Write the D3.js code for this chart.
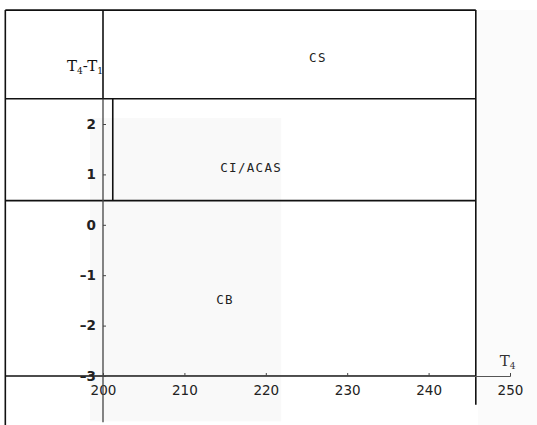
<!DOCTYPE html>
<html>
<head>
<meta charset="utf-8">
<script src="https://cdn.jsdelivr.net/npm/d3@7"></script>
<style>
  body { margin: 0; background: #fff; }
  svg { display: block; }
  .tick text { font-family: "DejaVu Sans", sans-serif; }
</style>
</head>
<body>
<svg width="537" height="425"></svg>
<script>
// axis ticks
const xTicks = [200, 210, 220, 230, 240, 250];
const yTicks = [-3, -2, -1, 0, 1, 2];

// region boundaries (in T4 / T4-T1 units)
const frameLeft = 188;
const frameTop = 4.26;
const frameBottom = -4;
const limitT4 = 245.8;      // right-hand vertical boundary
const upperLimit = 2.5;     // CS / CI-ACAS boundary
const lowerLimit = 0.48;    // CI-ACAS / CB boundary
const ciStart = 201.2;      // short vertical inside CI/ACAS

const boundaries = [
  { x1: frameLeft, y1: frameTop, x2: limitT4, y2: frameTop },
  { x1: frameLeft, y1: frameTop, x2: frameLeft, y2: frameBottom },
  { x1: 200, y1: frameTop, x2: 200, y2: upperLimit },
  { x1: frameLeft, y1: upperLimit, x2: limitT4, y2: upperLimit },
  { x1: frameLeft, y1: lowerLimit, x2: limitT4, y2: lowerLimit },
  { x1: ciStart, y1: upperLimit, x2: ciStart, y2: lowerLimit },
  { x1: limitT4, y1: frameTop, x2: limitT4, y2: -3.57 },
  { x1: frameLeft, y1: -3, x2: limitT4, y2: -3 }
];

const regionLabels = [
  { name: "CS", x: 226.4, y: 3.3 },
  { name: "CI/ACAS", x: 218.2, y: 1.12 },
  { name: "CB", x: 215, y: -1.5 }
];

let svg = d3.select("svg");

let x = d3.scaleLinear().domain([200, 250]).range([103, 510]);
let y = d3.scaleLinear().domain([-3, 2]).range([376, 124]);

// faint scan background patches
svg.append("rect")
  .attr("x", x(198.4)).attr("y", y(2.12))
  .attr("width", x(221.9) - x(198.4)).attr("height", y(-3.9) - y(2.12))
  .attr("fill", "#f9f9f9");
svg.append("rect")
  .attr("x", x(limitT4) + 2).attr("y", y(frameTop))
  .attr("width", 537 - x(limitT4)).attr("height", 425)
  .attr("fill", "#fbfbfb");

// boundary lines
svg.selectAll("line.bound")
  .data(boundaries)
  .enter()
  .append("line")
  .attr("class", "bound")
  .attr("x1", d => x(d.x1))
  .attr("y1", d => y(d.y1))
  .attr("x2", d => x(d.x2))
  .attr("y2", d => y(d.y2))
  .attr("stroke", "#111")
  .attr("stroke-width", 1.6);

// x axis
let xAxis = svg.append("g")
  .attr("transform", "translate(0," + y(-3) + ")")
  .call(d3.axisBottom(x).tickValues(xTicks).tickSize(-3).tickPadding(9).tickFormat(d3.format("d")));
xAxis.select(".domain").attr("stroke", "#555").attr("stroke-width", 1);
xAxis.selectAll(".tick line").attr("stroke", "#444");
xAxis.selectAll(".tick text").attr("font-size", 13.5).attr("fill", "#222");

// y axis
let yAxis = svg.append("g")
  .attr("transform", "translate(" + x(200) + ",0)")
  .call(d3.axisLeft(y).tickValues(yTicks).tickSize(-3).tickPadding(7).tickFormat(d => d < 0 ? "\u2013" + Math.abs(d) : d));
yAxis.select(".domain").remove();
yAxis.append("line")
  .attr("x1", 0).attr("x2", 0)
  .attr("y1", y(upperLimit)).attr("y2", y(-3.92))
  .attr("stroke", "#444").attr("stroke-width", 1.3);
yAxis.selectAll(".tick line").attr("stroke", "#444");
yAxis.selectAll(".tick text").attr("font-size", 13.5).attr("font-weight", "bold").attr("fill", "#222");

// region labels
svg.selectAll("text.region")
  .data(regionLabels)
  .enter()
  .append("text")
  .attr("class", "region")
  .attr("x", d => x(d.x))
  .attr("y", d => y(d.y))
  .attr("text-anchor", "middle")
  .attr("dominant-baseline", "middle")
  .attr("font-family", "DejaVu Sans Mono, monospace")
  .attr("font-size", 12.5)
  .attr("letter-spacing", 1.3)
  .attr("fill", "#222")
  .text(d => d.name);

// axis titles
let yTitle = svg.append("text")
  .attr("x", x(197.8))
  .attr("y", y(3.05))
  .attr("text-anchor", "middle")
  .attr("font-family", "DejaVu Serif, serif")
  .attr("font-size", 15)
  .attr("fill", "#111");
yTitle.append("tspan").text("T");
yTitle.append("tspan").attr("font-size", 9).attr("dy", 3).text("4");
yTitle.append("tspan").attr("dy", -3).text("-T");
yTitle.append("tspan").attr("font-size", 9).attr("dy", 3).text("1");

let xTitle = svg.append("text")
  .attr("x", x(249.7))
  .attr("y", y(-2.8))
  .attr("text-anchor", "middle")
  .attr("font-family", "DejaVu Serif, serif")
  .attr("font-size", 15)
  .attr("fill", "#333");
xTitle.append("tspan").text("T");
xTitle.append("tspan").attr("font-size", 9).attr("dy", 3).text("4");
</script>
</body>
</html>
